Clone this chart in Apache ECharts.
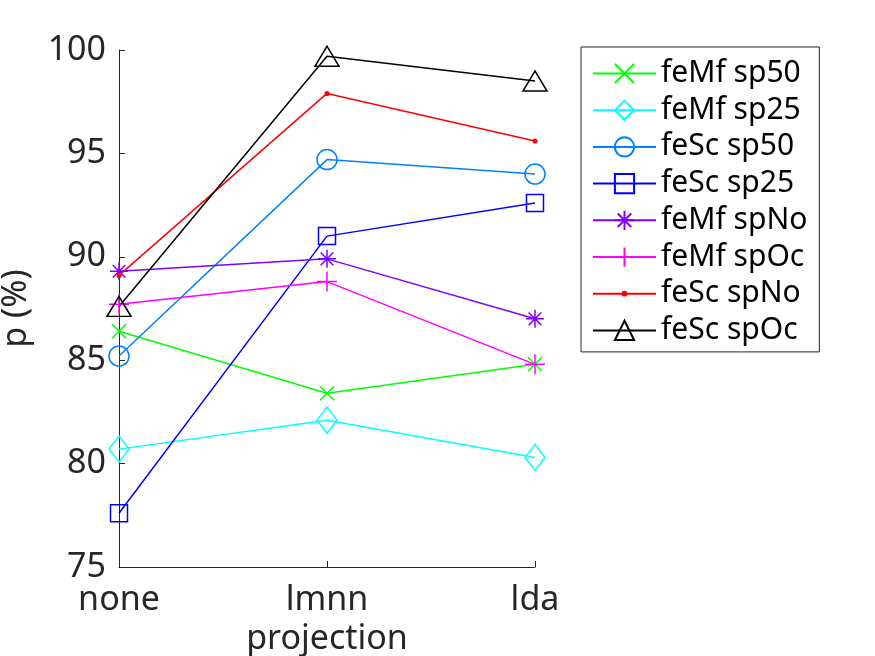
<!DOCTYPE html>
<html>
<head>
<meta charset="utf-8">
<script src="https://cdn.jsdelivr.net/npm/echarts@6/dist/echarts.min.js"></script>
<style>
  html, body { margin: 0; padding: 0; background: #fff; }
  #chart { width: 875px; height: 656px; }
</style>
</head>
<body>
<div id="chart"></div>
<script>
// categories on the x axis
var projections = ['none', 'lmnn', 'lda'];
var yTicks = [75, 80, 85, 90, 95, 100];

// values (p in %)
var feMfSp50 = [86.4, 83.4, 84.8];
var feMfSp25 = [80.7, 82.1, 80.3];
var feScSp50 = [85.2, 94.7, 94.0];
var feScSp25 = [77.6, 91.0, 92.6];
var feMfSpNo = [89.3, 89.9, 87.0];
var feMfSpOc = [87.7, 88.8, 84.8];
var feScSpNo = [89.1, 97.9, 95.6];
var feScSpOc = [87.6, 99.7, 98.5];

var FONT = 'Noto Sans';

// marker shapes like the matlab ones
var crossPath = 'path://M0,0L10,10M10,0L0,10';
var plusPath = 'path://M5,0L5,10M0,5L10,5';
var starPath = 'path://M5,0L5,10M0,5L10,5M1.5,1.5L8.5,8.5M8.5,1.5L1.5,8.5';
// small dot inside an empty 10x10 box, so the legend icon stays small too
var dotPath = 'path://M0,0L0.01,0L0,0.01ZM10,10L9.99,10L10,9.99ZM3.5,5A1.5,1.5 0 1,1 6.5,5A1.5,1.5 0 1,1 3.5,5Z';

function line(name, data, color, symbol, size, filled) {
  return {
    name: name,
    type: 'line',
    data: data,
    symbol: symbol,
    symbolSize: size,
    showAllSymbol: true,
    lineStyle: { color: color, width: 1.5 },
    itemStyle: {
      color: filled ? color : 'rgba(0,0,0,0)',
      borderColor: color,
      borderWidth: filled ? 0 : 1.5
    },
    emphasis: { disabled: true },
    animation: false
  };
}

var option = {
  backgroundColor: '#fff',
  textStyle: { fontFamily: FONT },
  grid: { left: 119, right: 340, top: 50, bottom: 89, outerBoundsMode: 'none' },
  xAxis: {
    type: 'category',
    data: projections,
    boundaryGap: false,
    name: 'projection',
    nameLocation: 'middle',
    nameGap: 53,
    nameTextStyle: { fontSize: 34, color: '#262626', fontFamily: FONT },
    axisLine: { lineStyle: { color: '#262626', width: 1 } },
    axisTick: { inside: true, length: 6, alignWithLabel: true, lineStyle: { color: '#262626' } },
    axisLabel: { fontSize: 34, color: '#262626', margin: 16, fontFamily: FONT }
  },
  yAxis: {
    type: 'value',
    min: yTicks[0],
    max: yTicks[yTicks.length - 1],
    interval: 5,
    name: 'p (%)',
    nameLocation: 'middle',
    nameGap: 86,
    nameTextStyle: { fontSize: 34, color: '#262626', fontFamily: FONT },
    axisLine: { show: true, lineStyle: { color: '#262626', width: 1 } },
    axisTick: { show: true, inside: true, length: 6, lineStyle: { color: '#262626' } },
    axisLabel: { fontSize: 34, color: '#262626', margin: 13, fontFamily: FONT },
    splitLine: { show: false }
  },
  legend: {
    orient: 'vertical',
    left: 581,
    top: 47,
    padding: [11, 12, 6, 11],
    itemGap: 5.7,
    itemWidth: 63,
    itemHeight: 24,
    borderColor: '#262626',
    borderWidth: 1,
    textStyle: { fontSize: 30, lineHeight: 31, color: '#000', fontFamily: FONT },
    data: ['feMf sp50', 'feMf sp25', 'feSc sp50', 'feSc sp25', 'feMf spNo', 'feMf spOc', 'feSc spNo', 'feSc spOc']
  },
  series: [
    line('feMf sp50', feMfSp50, '#00ff00', crossPath, 14, false),
    line('feMf sp25', feMfSp25, '#00ffff', 'diamond', [20, 26], false),
    line('feSc sp50', feScSp50, '#0080ff', 'circle', 20, false),
    line('feSc sp25', feScSp25, '#0000ff', 'rect', 17, false),
    line('feMf spNo', feMfSpNo, '#8000ff', starPath, 18, false),
    line('feMf spOc', feMfSpOc, '#ff00ff', plusPath, 20, false),
    line('feSc spNo', feScSpNo, '#ff0000', dotPath, 17, true),
    line('feSc spOc', feScSpOc, '#000000', 'triangle', [24, 20], false)
  ]
};

var myChart = echarts.init(document.getElementById('chart'), null, { renderer: 'canvas' });
myChart.setOption(option);
</script>
</body>
</html>
